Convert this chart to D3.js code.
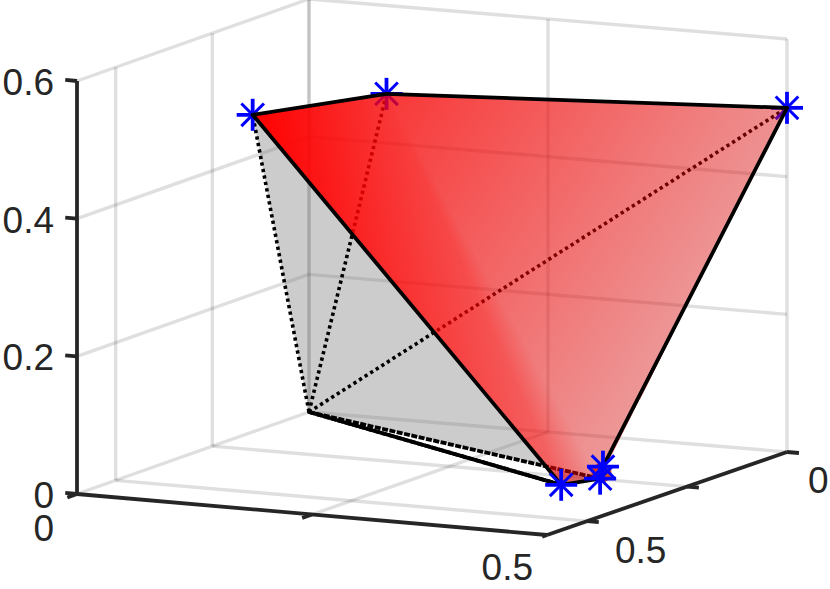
<!DOCTYPE html>
<html><head><meta charset="utf-8">
<script src="https://cdnjs.cloudflare.com/ajax/libs/d3/7.8.5/d3.min.js"></script>
<style>html,body{margin:0;padding:0;background:#fff}svg{display:block}text{font-family:"Liberation Sans",Arial,sans-serif;font-size:37px;fill:#262626}</style>
</head><body><svg id="c" width="830" height="589"></svg>
<script>
// data: vertices are G, A, B, C, D, E, F
const vertexNames = ["G","A","B","C","D","E","F"];
const vertexX = [0, 0.065, 0.128, 0.5, 0.406, 0.424, 0.414];
const vertexY = [0, 0.305, 0.115, 0, 0.342, 0.287, 0.256];
const vertexZ = [0, 0.5, 0.5, 0.5, 0.01, 0.01, 0.02];
const faceAlpha = {A:1, B:0.76, C:0.37, D:0.56, E:0.33};
const redFaces = [["A","B","D"],["B","C","E"],["B","E","D"]];
const dottedEdges = [["G","A"],["G","B"],["G","C"]];
const roughEdges = [["G","E"],["G","D"]];
const solidEdges = [["A","B"],["B","C"],["C","F"],["F","E"],["E","D"],["A","D"],["G","D"]];
const xTicks=[0,0.25,0.5], yTicks=[0,0.25,0.5], zTicks=[0,0.2,0.4,0.6];
const xTickLabels=["0","","0.5"], yTickLabels=["0","","0.5"], zTickLabels=["0","0.2","0.4","0.6"];
const xMax=0.5, yMax=0.6, zMax=0.6;

const sx=d3.scaleLinear().domain([0,xMax]).range([0,1]);
const sy=d3.scaleLinear().domain([0,yMax]).range([0,1]);
const sz=d3.scaleLinear().domain([0,zMax]).range([0,-413]);
const C00=[309,412],C10=[787,452],C01=[77,494],C11=[547,535];
function P(x,y,z){
  const u=sx(x),v=sy(y);
  const bl=(i)=>C00[i]*(1-u)*(1-v)+C10[i]*u*(1-v)+C01[i]*(1-u)*v+C11[i]*u*v;
  return [bl(0),bl(1)+sz(z)];
}
const V={};
vertexNames.forEach((n,i)=>V[n]=P(vertexX[i],vertexY[i],vertexZ[i]));

const svg=d3.select("#c");
const defs=svg.append("defs");
const line=d3.line();
const ink="#262626";

// grid
const grid=[];
xTicks.forEach(x=>{grid.push([P(x,0,0),P(x,0,zMax)]);if(x>0&&x<xMax)grid.push([P(x,0,0),P(x,yMax,0)]);});
yTicks.forEach(y=>{grid.push([P(0,y,0),P(0,y,zMax)]);grid.push([P(0,y,0),P(xMax,y,0)]);});
zTicks.forEach(z=>{if(z>0){grid.push([P(0,0,z),P(xMax,0,z)]);grid.push([P(0,0,z),P(0,yMax,z)]);}});
grid.push([P(0,0,0),P(0,yMax,0)]);
svg.append("g").selectAll("path").data(grid).join("path").attr("d",d=>line(d))
  .attr("fill","none").attr("stroke",ink).attr("stroke-opacity",0.15).attr("stroke-width",3.4);

// axes
const ax=svg.append("g").attr("fill","none").attr("stroke",ink).attr("stroke-width",3.8);
[[P(0,yMax,0),P(0,yMax,zMax)],[P(0,yMax,0),P(xMax,yMax,0)],[P(xMax,yMax,0),P(xMax,0,0)]]
  .forEach(d=>ax.append("path").attr("d",line(d)));
zTicks.forEach(z=>ax.append("path").attr("d",line([P(0,yMax,z),P(-0.0125,yMax,z)])));
xTicks.forEach(x=>ax.append("path").attr("d",line([P(x,yMax,0),P(x,yMax+(x==xMax?0.012:0.025),0)])));
yTicks.forEach(y=>ax.append("path").attr("d",line([P(xMax,y,0),P(xMax+0.0125,y,0)])));

// labels
const lab=svg.append("g");
zTicks.forEach((z,i)=>{const p=P(0,yMax,z);lab.append("text").attr("x",54).attr("y",p[1]+14).attr("text-anchor","end").text(zTickLabels[i]);});
xTicks.forEach((x,i)=>{if(!xTickLabels[i])return;const p=P(x,yMax,0);lab.append("text").attr("x",p[0]+(x==0?-23:-14)).attr("y",p[1]+(x==0?47:45)).attr("text-anchor","end").text(xTickLabels[i]);});
yTicks.forEach((y,i)=>{if(!yTickLabels[i])return;const p=P(xMax,y,0);lab.append("text").attr("x",p[0]+(y==0?21:28)).attr("y",p[1]+(y==0?41:42)).text(yTickLabels[i]);});

// gray faces
const poly=names=>line(names.map(n=>V[n]))+"Z";
svg.append("path").attr("d",poly(["G","A","D","E"])).attr("fill","#797979").attr("fill-opacity",0.38);
svg.append("path").attr("d",poly(["A","B","C","F","E","D"])).attr("fill","#797979").attr("fill-opacity",0.2);

// dotted edges
svg.append("g").selectAll("path").data(dottedEdges).join("path").attr("d",d=>line(d.map(n=>V[n])))
  .attr("fill","none").attr("stroke","#000").attr("stroke-width",3.6).attr("stroke-dasharray","3.3 3.3");
svg.append("g").selectAll("path").data(roughEdges).join("path").attr("d",d=>line(d.map(n=>V[n])))
  .attr("fill","none").attr("stroke","#000").attr("stroke-width",3.8).attr("stroke-dasharray","6 1.5");

// orange point + stars
const mid=(k)=>(V.E[k]+V.F[k])/2;
svg.append("circle").attr("cx",mid(0)).attr("cy",mid(1)).attr("r",10).attr("fill","#d95319");
function star(g,p,w){
  const r=16;
  for(let i=0;i<4;i++){const t=i*Math.PI/4,c=Math.cos(t)*r,s=Math.sin(t)*r;
    g.append("line").attr("x1",p[0]-c).attr("y1",p[1]-s).attr("x2",p[0]+c).attr("y2",p[1]+s)
     .attr("stroke","#0000ff").attr("stroke-width",i%2?3:3.8);}
}
const back=svg.append("g");["A","B","C"].forEach(n=>star(back,V[n]));

// red faces: alpha varying linearly over each triangle
redFaces.forEach((f,i)=>{
  const p=f.map(n=>V[n]),a=f.map(n=>faceAlpha[n]);
  const d=(p[1][0]-p[0][0])*(p[2][1]-p[0][1])-(p[2][0]-p[0][0])*(p[1][1]-p[0][1]);
  const gx=((a[1]-a[0])*(p[2][1]-p[0][1])-(a[2]-a[0])*(p[1][1]-p[0][1]))/d;
  const gy=((a[2]-a[0])*(p[1][0]-p[0][0])-(a[1]-a[0])*(p[2][0]-p[0][0]))/d;
  const hi=d3.maxIndex(a),lo=d3.minIndex(a),k=(a[lo]-a[hi])/(gx*gx+gy*gy);
  const g=defs.append("linearGradient").attr("id","f"+i).attr("gradientUnits","userSpaceOnUse")
    .attr("x1",p[hi][0]).attr("y1",p[hi][1]).attr("x2",p[hi][0]+gx*k).attr("y2",p[hi][1]+gy*k);
  g.append("stop").attr("offset",0).attr("stop-color","#ff0000").attr("stop-opacity",a[hi]);
  g.append("stop").attr("offset",1).attr("stop-color","#ff0000").attr("stop-opacity",a[lo]);
  svg.append("path").attr("d",poly(f)).attr("fill",`url(#f${i})`).attr("shape-rendering","crispEdges");
});

// solid edges
svg.append("g").selectAll("path").data(solidEdges).join("path").attr("d",d=>line(d.map(n=>V[n])))
  .attr("fill","none").attr("stroke","#000").attr("stroke-width",3.8).attr("stroke-linecap","round");

const front=svg.append("g");["D","E","F"].forEach(n=>star(front,V[n]));
</script></body></html>
